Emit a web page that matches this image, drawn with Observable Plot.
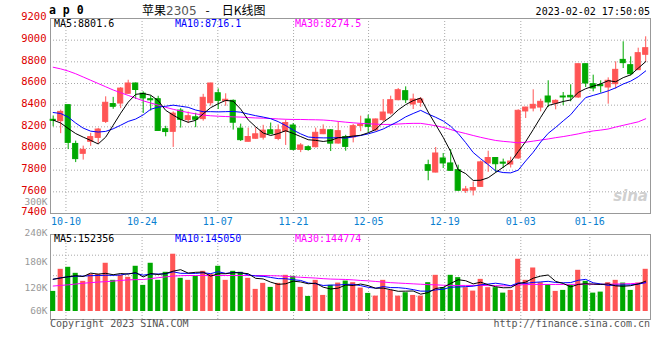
<!DOCTYPE html>
<html><head><meta charset="utf-8">
<script src="https://cdn.jsdelivr.net/npm/d3@7"></script>
<script src="https://cdn.jsdelivr.net/npm/@observablehq/plot@0.6"></script>
<style>
html,body{margin:0;padding:0;background:#fff;}
#chart{position:relative;width:660px;height:360px;overflow:hidden;background:#fff;}
#chart svg{position:absolute;left:0;top:0;}
.lbl{position:absolute;white-space:nowrap;line-height:1;font-family:"DejaVu Sans Mono",monospace;font-size:10px;}
</style></head><body><div id="chart"></div>
<script>
// ---------- data ----------
const opens = [8265,8252,8400,8042,7951,8062,8098,8246,8410,8415, 8505,8600,8506,8455,8455,8178,8154,8350,8262,8288, 8271,8418,8510,8437,8440,8183,8062,8090,8100,8168, 8088,8154,8212,7988,8012,8012,8132,8168,8046,8105, 8102,8208,8268,8168,8262,8323,8446,8529,8406,8422, 7846,7778,7908,7862,7800,7608,7612,7646,7862,7912, 7870,7852,7908,8342,8369,8378,8480,8415,8480,8486, 8471,8778,8594,8585,8563,8594,8818,8769,8723,8865];
const highs = [8300,8354,8400,8068,8022,8140,8185,8477,8472,8562, 8630,8605,8523,8485,8482,8205,8338,8368,8337,8325, 8500,8603,8550,8505,8448,8225,8188,8190,8214,8235, 8218,8262,8231,8045,8025,8188,8218,8175,8246,8122, 8222,8298,8308,8272,8452,8483,8554,8569,8502,8470, 7892,8009,7954,7990,7846,7650,7690,7885,7975,7912, 7902,7920,8357,8380,8542,8455,8625,8449,8517,8588, 8780,8780,8677,8625,8652,8800,8985,8846,8926,9031];
const lows = [8200,8137,7990,7870,7893,8020,8040,8231,8362,8368, 8500,8452,8323,8345,8160,8108,8010,8188,8230,8192, 8252,8392,8360,8390,8170,8065,8060,8085,8078,8130, 8072,8028,7978,7962,7975,8005,8128,7972,8040,7975, 8052,8155,8145,8155,8246,8308,8440,8415,8360,8380, 7702,7775,7815,7790,7605,7585,7562,7645,7780,7775, 7815,7820,7900,8277,8338,8338,8378,8357,8394,8431, 8462,8563,8523,8511,8409,8548,8738,8671,8723,8794];
const closes = [8255,8338,8052,7902,7988,8105,8175,8422,8385,8553, 8600,8540,8462,8445,8162,8152,8322,8265,8298,8265, 8468,8600,8440,8450,8238,8077,8106,8131,8165,8132, 8168,8235,7988,8028,7986,8145,8172,8045,8160,8015, 8206,8220,8200,8268,8332,8446,8538,8446,8452,8452, 7794,7954,7862,7794,7610,7622,7635,7872,7912,7855, 7860,7880,8348,8378,8403,8431,8425,8440,8471,8472, 8778,8600,8554,8575,8625,8726,8788,8686,8880,8926];
const ma5 = [8262,8235,8185,8138,8105,8075,8042,8105,8215,8326, 8428,8500,8508,8492,8442,8352,8308,8268,8242,8260, 8320,8377,8413,8444,8437,8363,8264,8200,8143,8120, 8138,8164,8139,8110,8081,8075,8065,8074,8100,8106, 8115,8122,8145,8175,8244,8292,8356,8405,8442,8466, 8336,8220,8103,7971,7803,7768,7705,7707,7730,7779, 7827,7876,7971,8064,8174,8288,8397,8415,8434,8448, 8517,8552,8575,8596,8626,8616,8654,8680,8741,8801.6];
const ma10 = [8332,8323,8290,8235,8188,8160,8152,8158,8182,8215, 8250,8272,8310,8362,8382,8390,8400,8390,8380,8355, 8340,8340,8338,8340,8342,8335,8318,8303,8290,8275, 8248,8212,8170,8135,8106,8100,8098,8098,8100,8096, 8108,8120,8135,8155,8180,8215,8250,8292,8323,8352, 8318,8288,8254,8205,8138,8054,7963,7905,7851,7793, 7778,7775,7800,7885,7965,8060,8140,8195,8255,8312, 8395,8470,8490,8510,8532,8560,8595,8622,8662,8716.1];
const ma30 = [8750,8735,8715,8690,8660,8630,8600,8570,8540,8515, 8490,8465,8440,8420,8400,8380,8362,8346,8332,8320, 8308,8302,8298,8295,8292,8290,8286,8282,8280,8277, 8273,8270,8268,8268,8266,8265,8263,8258,8250,8243, 8237,8232,8228,8225,8222,8222,8226,8230,8232,8232, 8222,8210,8195,8175,8155,8138,8120,8103,8088,8074, 8066,8060,8052,8058,8068,8078,8088,8100,8110,8122, 8135,8150,8162,8170,8180,8198,8214,8230,8246,8274.5];
const volumes = [101000,212100,222200,191900,151500,186900,186900,242400,156600,181800, 171700,227300,131300,242400,156600,197000,287900,166700,156600,176800, 202000,186900,227300,156600,202000,197000,166700,111100,141400,121200, 141400,181800,176800,121200,75800,156600,80800,131300,142900,153000, 144900,117700,90900,77300,156600,106100,77300,94400,80800,77300, 144900,181800,119700,181800,170200,119700,102500,161600,119700,119700, 92400,106100,262600,156600,218700,144900,134800,101000,106100,131300, 207100,151500,92400,97500,144900,156600,142900,106100,142900,212100];
const vma5 = [162000,168000,175000,180000,175700,192900,187900,191900,184900,190900, 187900,196000,173700,190900,185900,190900,203000,210100,193000,197000, 198000,177800,189900,189900,195000,194000,189900,166700,163600,147500, 136400,139400,152500,148500,139400,142400,122200,113100,117500,132900, 130600,138000,129900,116800,117500,109700,101600,102300,103000,87200, 94900,115800,120900,141100,159700,154600,138800,147200,134700,124600, 119200,119900,140100,147500,167300,177800,183500,151200,141100,123600, 136100,139400,137700,136000,138700,128600,126900,129600,138700,152356];
const vma10 = [162000,170000,174000,177000,178000,180000,181000,182000,182000,183300, 190400,191900,182800,187900,188400,189400,199500,191900,191900,191400, 194500,190400,200000,191400,196000,196000,183900,178300,176800,171200, 165200,164700,159600,156100,143400,139400,130800,132800,133000,136200, 136500,130100,121500,117100,125200,120200,119800,116100,109900,102300, 102300,108700,111600,122100,123400,124800,127300,134000,137900,142200, 136900,129300,143600,141100,146000,148500,151700,145700,144300,145500, 156900,161500,144400,138500,131200,132300,133100,133600,137300,145050];
const vma30 = [128000,131000,134000,138000,142000,145000,148000,150000,153000,156000, 159000,160000,161000,165000,170000,174000,178000,180000,181000,181000, 181000,181000,181000,181000,181000,181000,181000,181000,181000,180000, 179000,177000,174000,172000,170000,168000,165000,163000,162000,161000, 159000,156000,154000,151000,148000,145000,143000,141000,139000,137000, 135000,134000,132000,131000,131000,131000,131000,131000,130000,130000, 129000,129000,134000,135000,136000,136000,136000,136000,136000,136000, 137000,137000,137000,137000,137000,138000,139000,140000,142000,144774];
const dateLabels = ["10-10","10-24","11-07","11-21","12-05","12-19","01-03","01-16"];
const dateTickAt = [1.7, 11.85, 21.95, 32.05, 42.05, 52.2, 62.35, 71.55];
const priceTicks = [9200,9000,8800,8600,8400,8200,8000,7800,7600,7400];
const priceGrid = [9000,8800,8600,8400,8200,8000,7800,7600];
const volTickLabels = ["300K","240K","180K","120K","60K"];
const volTickValues = [300000,240000,180000,120000,60000];
const volGrid = [77000,180000,283000];

// ---------- drawing ----------
const mono = "DejaVu Sans Mono, monospace";
const chart = document.getElementById("chart");
const xDomain = [-0.36, 79.64];
const upColor = "#ff5555", downColor = "#00a800";
const candles = opens.map((o, i) => ({i, open: o, high: highs[i], low: lows[i], close: closes[i]}));
const candleColor = d => d.close >= d.open ? upColor : downColor;
const volRows = volumes.map((v, i) => ({i, v, color: candleColor(candles[i])}));
const series = arr => arr.map((v, i) => ({i, v}));
const half = 0.34;
const gridStyle = {stroke: "#a8a8a8", strokeDasharray: "1,2"};

const mainPlot = Plot.plot({
  width: 660, height: 232,
  marginLeft: 50, marginRight: 10, marginTop: 18, marginBottom: 19,
  x: {domain: xDomain, axis: null},
  y: {domain: [7400, 9200], axis: null},
  color: {type: "identity"},
  style: {background: "transparent", overflow: "visible"},
  marks: [
    Plot.ruleY(priceGrid, gridStyle),
    Plot.ruleX(dateTickAt, gridStyle),
    Plot.frame({stroke: "#999"}),
    Plot.ruleX(candles, {x: "i", y1: "low", y2: "high", stroke: candleColor}),
    Plot.rect(candles, {x1: d => d.i - half, x2: d => d.i + half, y1: "open", y2: "close", fill: candleColor, stroke: candleColor, strokeWidth: 1}),
    Plot.line(series(ma30), {x: "i", y: "v", stroke: "#ff00ff", strokeWidth: 1}),
    Plot.line(series(ma10), {x: "i", y: "v", stroke: "#0000ff", strokeWidth: 1}),
    Plot.line(series(ma5), {x: "i", y: "v", stroke: "#000000", strokeWidth: 1}),
    Plot.text(priceTicks, {y: d => d, text: d => String(d), frameAnchor: "left", lineAnchor: "middle", textAnchor: "end", dx: -4, dy: -1.5, fill: "#dd0000", fontSize: 10.5, fontFamily: mono}),
    Plot.text(dateLabels, {x: (d, i) => dateTickAt[i], text: d => d, frameAnchor: "bottom", lineAnchor: "middle", dy: 8, fill: "#0a7fd0", fontSize: 10, fontFamily: mono})
  ]
});

const volPlot = Plot.plot({
  width: 660, height: 360,
  marginLeft: 50, marginRight: 10, marginTop: 234, marginBottom: 41,
  x: {domain: xDomain, axis: null},
  y: {domain: [0, 387000], range: [311, 234], axis: null},
  color: {type: "identity"},
  style: {background: "transparent"},
  marks: [
    Plot.ruleY(volGrid, gridStyle),
    Plot.ruleX(dateTickAt, gridStyle),
    Plot.frame({stroke: "#999"}),
    Plot.rect(volRows, {x1: d => d.i - half, x2: d => d.i + half, y1: 0, y2: "v", fill: "color"}),
    Plot.line(series(vma30), {x: "i", y: "v", stroke: "#ff00ff", strokeWidth: 1}),
    Plot.line(series(vma10), {x: "i", y: "v", stroke: "#0000ff", strokeWidth: 1}),
    Plot.line(series(vma5), {x: "i", y: "v", stroke: "#000000", strokeWidth: 1})
  ]
});

const volAxis = Plot.plot({
  width: 50, height: 360, margin: 0,
  y: {type: "pow", exponent: 1.3, domain: [60000, 300000], range: [310, 201], axis: null},
  style: {background: "transparent", overflow: "visible"},
  marks: [
    Plot.text(volTickValues, {y: d => d, text: (d, i) => volTickLabels[i], frameAnchor: "right", lineAnchor: "middle", textAnchor: "end", dx: -3, fill: "#999", fontSize: 9.5, fontFamily: mono})
  ]
});

chart.append(mainPlot, volPlot, volAxis);

function label(html, css) {
  const el = document.createElement("div");
  el.className = "lbl";
  el.innerHTML = html;
  Object.assign(el.style, css);
  chart.append(el);
}
label("a p 0", {left: "49px", top: "5px", fontSize: "11.5px", fontWeight: "bold"});
label('<span style="font-family:\'Noto Sans CJK SC\';">苹果</span><span style="font-family:\'DejaVu Sans\';color:#555;">2305</span><span style="font-family:\'Noto Sans CJK SC\';padding:0 12px 0 9px;">-</span><span style="font-family:\'Noto Sans CJK SC\';">日K线图</span>', {left: "142px", top: "4px", fontSize: "12px"});
label("2023-02-02 17:50:05", {right: "10px", top: "7px", fontSize: "10px", color: "#000"});
label("MA5:8801.6", {left: "54px", top: "19px", color: "#000"});
label("MA10:8716.1", {left: "175px", top: "19px", color: "#0000ff"});
label("MA30:8274.5", {left: "295px", top: "19px", color: "#ff00ff"});
label("MA5:152356", {left: "54px", top: "233.5px", color: "#000"});
label("MA10:145050", {left: "175px", top: "233.5px", color: "#0000ff"});
label("MA30:144774", {left: "295px", top: "233.5px", color: "#ff00ff"});
label("Copyright 2023 SINA.COM", {left: "50px", top: "318.5px", color: "#555"});
label("http://finance.sina.com.cn", {right: "10px", top: "318.5px", color: "#555"});
label("sina", {right: "12px", top: "189px", fontSize: "15px", fontFamily: "'DejaVu Sans'", fontStyle: "italic", fontWeight: "bold", color: "#d0d0d0"});
</script></body></html>
